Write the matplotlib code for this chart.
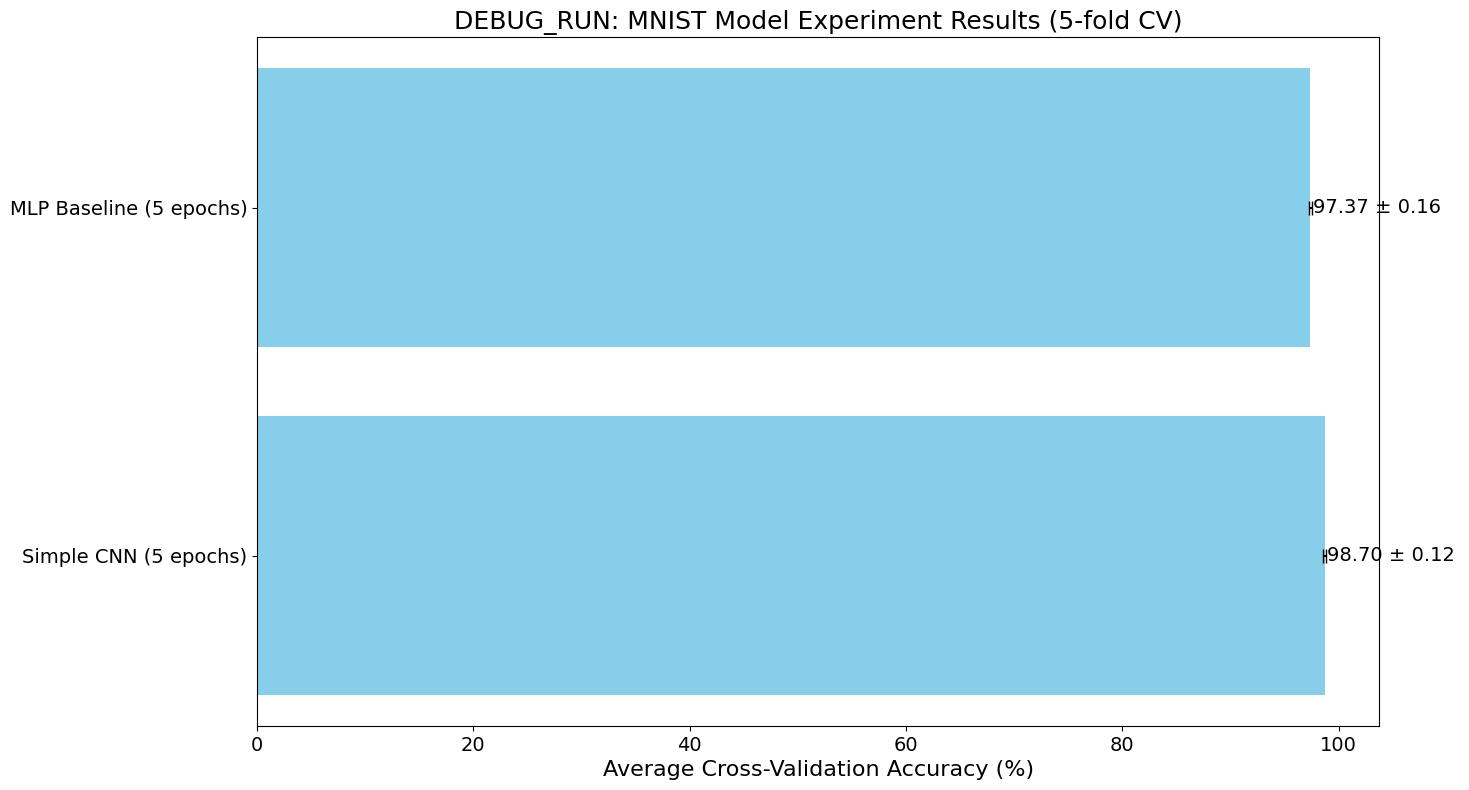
import matplotlib
matplotlib.use("Agg")
import matplotlib.pyplot as plt

models = ["Simple CNN (5 epochs)", "MLP Baseline (5 epochs)"]
means = [98.70, 97.37]
stds = [0.12, 0.16]

fig, ax = plt.subplots(figsize=(14.69, 7.9), dpi=100)
ax.barh(models, means, xerr=stds, color="skyblue", capsize=5)
for i, (m, s) in enumerate(zip(means, stds)):
    ax.text(m + s + 0.1, i, f"{m:.2f} ± {s:.2f}", va="center", fontsize=14)
ax.set_xlabel("Average Cross-Validation Accuracy (%)", fontsize=16)
ax.set_title("DEBUG_RUN: MNIST Model Experiment Results (5-fold CV)", fontsize=18)
ax.tick_params(labelsize=14)
fig.subplots_adjust(left=0.175, right=0.939, top=0.953, bottom=0.081)
fig.savefig("out.png")
